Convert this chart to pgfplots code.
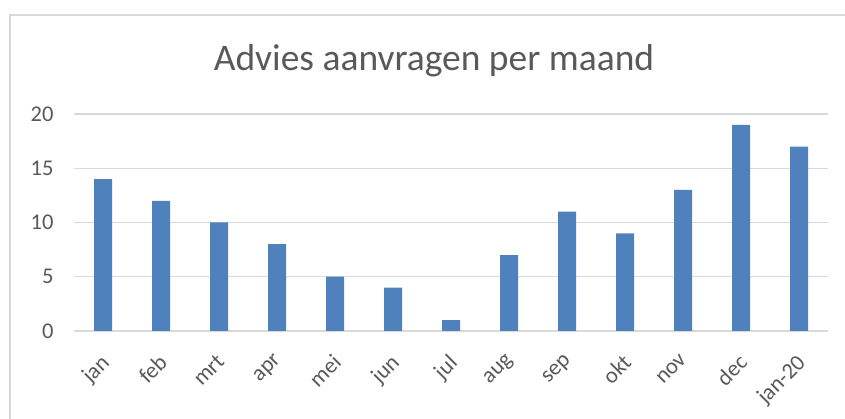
\documentclass[border=0pt]{standalone}
\usepackage{fontspec}
\setmainfont{Carlito}
\usepackage{pgfplots}
\pgfplotsset{compat=1.18}
\definecolor{barblue}{HTML}{4F81BD}
\definecolor{txt}{HTML}{595959}
\definecolor{gridc}{HTML}{D9D9D9}
\begin{document}
\begin{tikzpicture}[x=1pt,y=1pt]
\useasboundingbox (0,0) rectangle (845,419);
\draw[gridc, line width=1.3pt] (10,-5) -- (10,404) -- (850,404);
\node[anchor=base, text=txt, font=\fontsize{37.5}{42}\selectfont] at (434,348) {Advies aanvragen per maand};
\begin{axis}[
  at={(74pt,88pt)}, anchor=south west,
  scale only axis, width=754pt, height=217pt,
  xmin=-0.5, xmax=12.5, ymin=0, ymax=20,
  ytick={0,5,10,15,20},
  xtick=data,
  xticklabels={jan,feb,mrt,apr,mei,jun,jul,aug,sep,okt,nov,dec,jan-20},
  axis line style={draw=none},
  major tick length=0pt,
  ymajorgrids, grid style={gridc, line width=1.2pt},
  ybar, bar width=18pt,
  /pgf/number format/assume math mode=true,
  tick label style={text=txt, font=\fontsize{22.5}{26}\selectfont},
  yticklabel style={anchor=east, xshift=-17pt},
  xticklabel style={rotate=45, anchor=north east, inner sep=0pt, xshift=-18pt, yshift=-13pt},
  clip=false,
]
\addplot[fill=barblue, draw=none] coordinates {
(0,14) (1,12) (2,10) (3,8) (4,5) (5,4) (6,1) (7,7) (8,11) (9,9) (10,13) (11,19) (12,17)};
\end{axis}
\end{tikzpicture}
\end{document}
